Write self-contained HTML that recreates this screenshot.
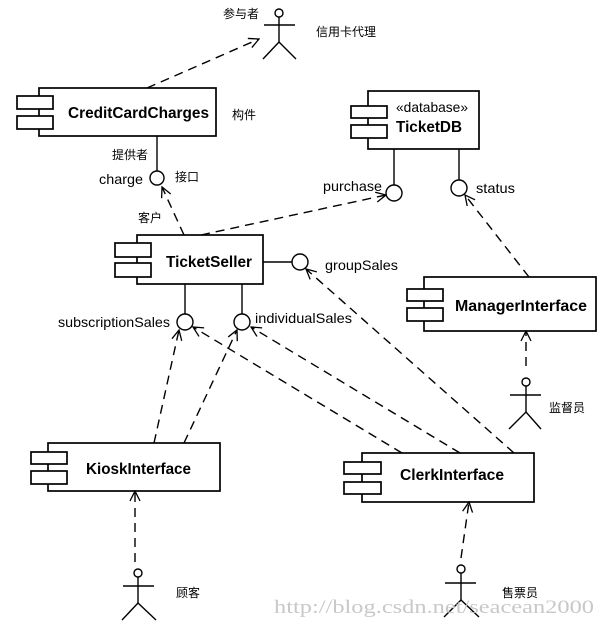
<!DOCTYPE html>
<html><head><meta charset="utf-8"><style>
html,body{margin:0;padding:0;background:#fff}
svg{display:block}
.b{font-family:"Liberation Sans","DejaVu Sans",sans-serif;font-weight:bold;font-size:16px}
.s{font-family:"Liberation Sans","DejaVu Sans",sans-serif;font-size:14px}
.c{font-family:"Liberation Sans","Noto Sans CJK SC",sans-serif;font-size:12px}
</style></head><body>
<svg width="603" height="628" viewBox="0 0 603 628" xmlns="http://www.w3.org/2000/svg">
<defs>
<marker id="a" markerWidth="12" markerHeight="12" refX="11" refY="6" orient="auto" markerUnits="userSpaceOnUse">
<path d="M1,1 L11,6 L1,11" fill="none" stroke="#000" stroke-width="1.3"/>
</marker>
</defs>
<g stroke="#000" stroke-width="1.7" fill="#fff">
<rect x="39" y="88" width="177" height="48"/>
<rect x="17" y="96" width="36" height="13"/>
<rect x="17" y="116" width="36" height="13"/>
<rect x="368" y="91" width="111" height="58"/>
<rect x="351" y="106" width="36" height="12"/>
<rect x="351" y="125" width="36" height="13"/>
<rect x="137" y="235" width="126" height="49"/>
<rect x="115" y="243" width="36" height="14"/>
<rect x="115" y="263" width="36" height="14"/>
<rect x="424" y="277" width="172" height="54"/>
<rect x="407" y="289" width="36" height="12"/>
<rect x="407" y="308" width="36" height="13"/>
<rect x="48" y="443" width="172" height="48"/>
<rect x="31" y="452" width="36" height="12"/>
<rect x="31" y="471" width="36" height="13"/>
<rect x="362" y="453" width="172" height="49"/>
<rect x="344" y="462" width="37" height="12"/>
<rect x="344" y="482" width="37" height="12"/>
</g>
<g stroke="#000" stroke-width="1.4" fill="none">
<line x1="157" y1="136" x2="157" y2="171"/>
<circle cx="157" cy="178" r="7" fill="#fff"/>
<line x1="394" y1="149" x2="394" y2="185"/>
<circle cx="394" cy="193" r="8" fill="#fff"/>
<line x1="459" y1="149" x2="459" y2="180"/>
<circle cx="459" cy="188" r="8" fill="#fff"/>
<line x1="263" y1="262" x2="292" y2="262"/>
<circle cx="300" cy="262" r="8" fill="#fff"/>
<line x1="185" y1="284" x2="185" y2="314"/>
<circle cx="185" cy="322" r="8" fill="#fff"/>
<line x1="242" y1="284" x2="242" y2="314"/>
<circle cx="242" cy="322" r="8" fill="#fff"/>
<circle cx="279" cy="13" r="4"/><line x1="264" y1="25" x2="295" y2="25"/><line x1="279" y1="17" x2="279" y2="42"/><polyline points="263,59 279,42 296,59"/>
<circle cx="526" cy="382" r="4"/><line x1="510" y1="395" x2="541" y2="395"/><line x1="526" y1="386" x2="526" y2="412"/><polyline points="509,429 526,412 541,429"/>
<circle cx="138" cy="573" r="4"/><line x1="123" y1="586" x2="154" y2="586"/><line x1="138" y1="577" x2="138" y2="603"/><polyline points="122,620 138,603 156,620"/>
<circle cx="461" cy="569" r="4"/><line x1="445" y1="583" x2="476" y2="583"/><line x1="461" y1="573" x2="461" y2="600"/><polyline points="444,617 461,600 479,617"/>
</g>
<g stroke="#000" stroke-width="1.4" fill="none" stroke-dasharray="9,6" marker-end="url(#a)">
<line x1="147" y1="88" x2="259" y2="39"/>
<line x1="184" y1="235" x2="162" y2="187"/>
<line x1="201" y1="235" x2="386" y2="195"/>
<line x1="529" y1="277" x2="465" y2="195"/>
<line x1="514" y1="453" x2="306" y2="269"/>
<line x1="154" y1="443" x2="179" y2="330"/>
<line x1="184" y1="443" x2="237" y2="330"/>
<line x1="402" y1="453" x2="193" y2="327"/>
<line x1="460" y1="453" x2="251" y2="327"/>
<line x1="526" y1="366" x2="526" y2="331"/>
<line x1="135" y1="562" x2="135" y2="491"/>
<line x1="461" y1="558" x2="469" y2="502"/>
</g>
<g fill="#000">
<text class="b" x="68" y="118" textLength="141" lengthAdjust="spacingAndGlyphs">CreditCardCharges</text>
<text class="s" x="396" y="112" textLength="72" lengthAdjust="spacingAndGlyphs">«database»</text>
<text class="b" x="396" y="132" textLength="66" lengthAdjust="spacingAndGlyphs">TicketDB</text>
<text class="b" x="166" y="267" textLength="86" lengthAdjust="spacingAndGlyphs">TicketSeller</text>
<text class="b" x="455" y="311" textLength="132" lengthAdjust="spacingAndGlyphs">ManagerInterface</text>
<text class="b" x="86" y="474" textLength="105" lengthAdjust="spacingAndGlyphs">KioskInterface</text>
<text class="b" x="400" y="480" textLength="104" lengthAdjust="spacingAndGlyphs">ClerkInterface</text>
<text class="s" x="99" y="184" textLength="44" lengthAdjust="spacingAndGlyphs">charge</text>
<text class="s" x="323" y="191" textLength="59" lengthAdjust="spacingAndGlyphs">purchase</text>
<text class="s" x="476" y="193" textLength="39" lengthAdjust="spacingAndGlyphs">status</text>
<text class="s" x="325" y="270" textLength="73" lengthAdjust="spacingAndGlyphs">groupSales</text>
<text class="s" x="58" y="327" textLength="112" lengthAdjust="spacingAndGlyphs">subscriptionSales</text>
<text class="s" x="255" y="323" textLength="97" lengthAdjust="spacingAndGlyphs">individualSales</text>
<text class="c" x="223" y="18">参与者</text>
<text class="c" x="316" y="36">信用卡代理</text>
<text class="c" x="232" y="119">构件</text>
<text class="c" x="112" y="159">提供者</text>
<text class="c" x="175" y="181">接口</text>
<text class="c" x="138" y="222">客户</text>
<text class="c" x="549" y="412">监督员</text>
<text class="c" x="176" y="597">顾客</text>
<text class="c" x="502" y="597">售票员</text>
<text x="274" y="613" font-family="Liberation Serif,serif" font-size="19" fill="#c8c8c8" textLength="320" lengthAdjust="spacingAndGlyphs">http://blog.csdn.net/seacean2000</text>
</g>
</svg>
</body></html>
